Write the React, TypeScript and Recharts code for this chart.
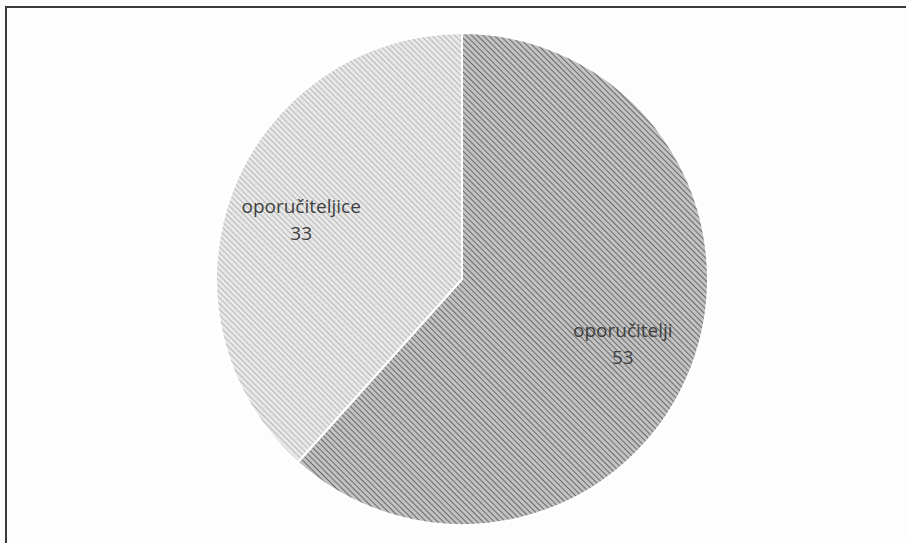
import React from 'react';
import { PieChart, Pie, Cell } from 'recharts';

const categories = ['oporučitelji', 'oporučiteljice'];
const values = [53, 33];

const data = categories.map((name, i) => ({ name, value: values[i] }));

const fills = ['url(#hatchDark)', 'url(#hatchLight)'];

const RADIAN = Math.PI / 180;

const renderLabel = (props: any) => {
  const { cx, cy, midAngle, outerRadius, name, value } = props;
  const r = outerRadius * 0.7;
  const x = cx + r * Math.cos(-midAngle * RADIAN);
  const y = cy + r * Math.sin(-midAngle * RADIAN);
  return (
    <text
      x={x}
      y={y}
      textAnchor="middle"
      fill="#404040"
      fontFamily="'Open Sans', 'Noto Sans', sans-serif"
      fontSize={19}
    >
      <tspan x={x} dy={-4}>{name}</tspan>
      <tspan x={x} dy={27}>{value}</tspan>
    </text>
  );
};

export default function App() {
  return (
    <div style={{ position: 'absolute', left: 0, top: 0, width: 906, height: 543, background: '#fdfdfd', overflow: 'hidden' }}>
      <svg width={0} height={0} style={{ position: 'absolute' }}>
        <defs>
          <pattern id="hatchDark" width={4} height={4} patternUnits="userSpaceOnUse" patternTransform="rotate(-45)">
            <rect width={4} height={4} fill="#c2c2c2" />
            <line x1={0} y1={0} x2={0} y2={4} stroke="#6a6a6a" strokeWidth={2} />
          </pattern>
          <pattern id="hatchLight" width={4} height={4} patternUnits="userSpaceOnUse" patternTransform="rotate(-45)">
            <rect width={4} height={4} fill="#e8e8e8" />
            <line x1={0} y1={0} x2={0} y2={4} stroke="#b8b8b8" strokeWidth={2} />
          </pattern>
        </defs>
      </svg>
      <div
        style={{
          position: 'absolute',
          left: 5,
          top: 6,
          width: 910,
          height: 560,
          borderTop: '2px solid #3a3a3a',
          borderLeft: '2px solid #3a3a3a',
        }}
      />
      <div style={{ position: 'absolute', left: 0, top: 0 }}>
        <PieChart width={906} height={543} margin={{ top: 0, right: 0, bottom: 0, left: 0 }}>
          <Pie
            data={data}
            dataKey="value"
            nameKey="name"
            cx={462}
            cy={279}
            outerRadius={246}
            startAngle={90}
            endAngle={-270}
            stroke="#ffffff"
            strokeWidth={2}
            label={renderLabel}
            labelLine={false}
            isAnimationActive={false}
          >
            {data.map((d, i) => (
              <Cell key={d.name} fill={fills[i]} />
            ))}
          </Pie>
        </PieChart>
      </div>
    </div>
  );
}
